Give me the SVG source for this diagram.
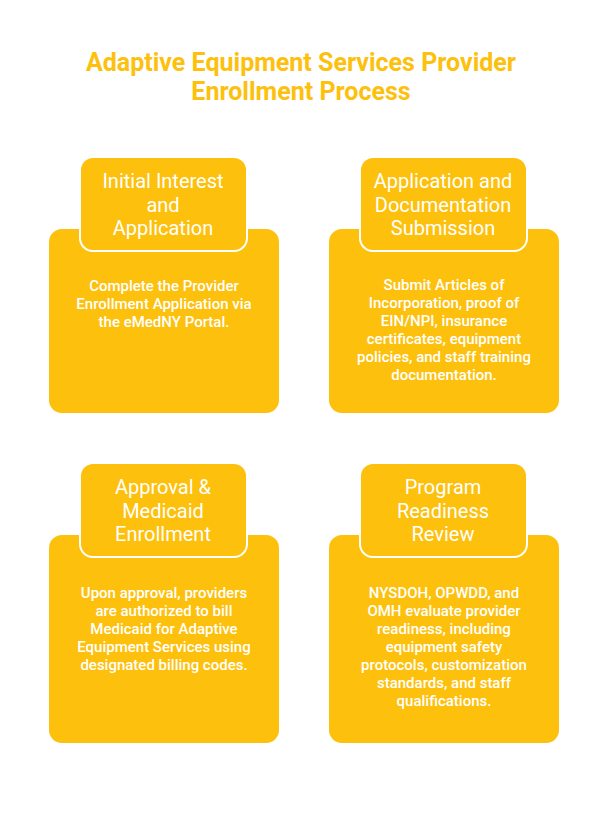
<svg xmlns="http://www.w3.org/2000/svg" width="608" height="817" viewBox="0 0 608 817">
<style>
.bg{fill:#ffffff}
.body{fill:#FDC00C}
.tab{fill:#FDC00C;stroke:#ffffff;stroke-width:2}
.title{font-family:Roboto,"Liberation Sans",sans-serif;font-weight:700;font-size:25px;fill:#FDC00C;text-anchor:middle}
.h{font-family:Roboto,"Liberation Sans",sans-serif;font-weight:400;font-size:20px;fill:#ffffff;text-anchor:middle}
.t{font-family:Roboto,"Liberation Sans",sans-serif;font-weight:500;font-size:15px;fill:#ffffff;text-anchor:middle}
</style>
<rect class="bg" x="0" y="0" width="608" height="817"/>
<g id="title">
<text class="title" x="301" y="71">Adaptive Equipment Services Provider</text>
<text class="title" x="301" y="100">Enrollment Process</text>
</g>
<g id="connectors"></g>
<g id="node1">
<rect class="body" x="49" y="229" width="230" height="184" rx="13"/>
<rect class="tab" x="80" y="157" width="167" height="94" rx="13"/>
<text class="h" x="163" y="188">Initial Interest</text>
<text class="h" x="163" y="211.5">and</text>
<text class="h" x="163" y="235">Application</text>
<text class="t" x="164" y="291">Complete the Provider</text>
<text class="t" x="164" y="309">Enrollment Application via</text>
<text class="t" x="164" y="327">the eMedNY Portal.</text>
</g>
<g id="node2">
<rect class="body" x="329" y="229" width="230" height="184" rx="13"/>
<rect class="tab" x="360" y="157" width="167" height="94" rx="13"/>
<text class="h" x="443" y="188">Application and</text>
<text class="h" x="443" y="211.5">Documentation</text>
<text class="h" x="443" y="235">Submission</text>
<text class="t" x="444" y="290">Submit Articles of</text>
<text class="t" x="444" y="308">Incorporation, proof of</text>
<text class="t" x="444" y="326">EIN/NPI, insurance</text>
<text class="t" x="444" y="344">certificates, equipment</text>
<text class="t" x="444" y="362">policies, and staff training</text>
<text class="t" x="444" y="380">documentation.</text>
</g>
<g id="node3">
<rect class="body" x="49" y="535" width="230" height="208" rx="13"/>
<rect class="tab" x="80" y="463" width="167" height="94" rx="13"/>
<text class="h" x="163" y="494">Approval &amp;</text>
<text class="h" x="163" y="517.5">Medicaid</text>
<text class="h" x="163" y="541">Enrollment</text>
<text class="t" x="164" y="598">Upon approval, providers</text>
<text class="t" x="164" y="616">are authorized to bill</text>
<text class="t" x="164" y="634">Medicaid for Adaptive</text>
<text class="t" x="164" y="652">Equipment Services using</text>
<text class="t" x="164" y="670">designated billing codes.</text>
</g>
<g id="node4">
<rect class="body" x="329" y="535" width="230" height="208" rx="13"/>
<rect class="tab" x="360" y="463" width="167" height="94" rx="13"/>
<text class="h" x="443" y="494">Program</text>
<text class="h" x="443" y="517.5">Readiness</text>
<text class="h" x="443" y="541">Review</text>
<text class="t" x="444" y="598">NYSDOH, OPWDD, and</text>
<text class="t" x="444" y="616">OMH evaluate provider</text>
<text class="t" x="444" y="634">readiness, including</text>
<text class="t" x="444" y="652">equipment safety</text>
<text class="t" x="444" y="670">protocols, customization</text>
<text class="t" x="444" y="688">standards, and staff</text>
<text class="t" x="444" y="706">qualifications.</text>
</g>
</svg>
